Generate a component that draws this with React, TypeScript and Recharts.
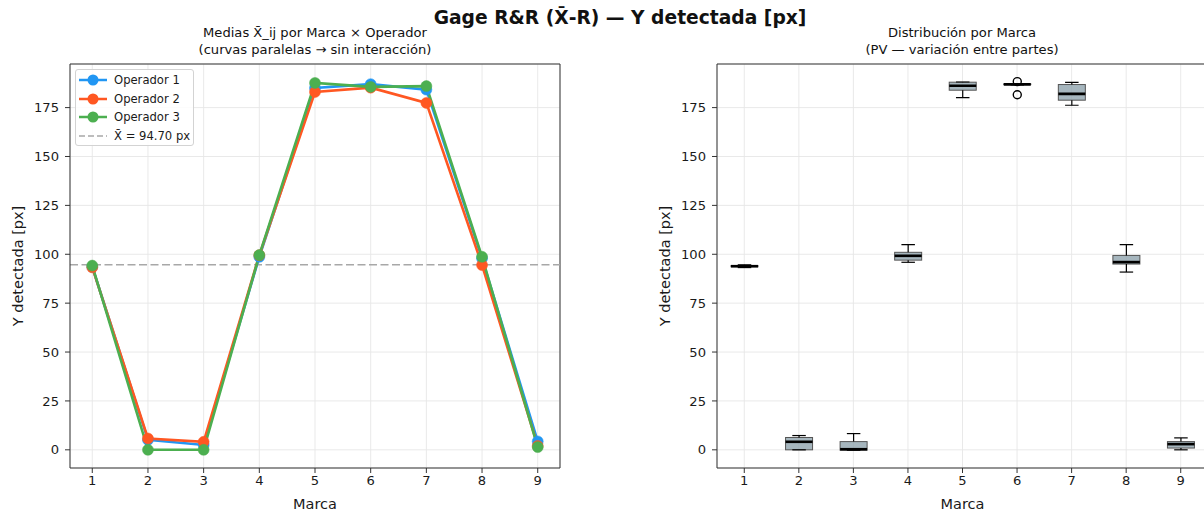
import React from "react";
import {
  LineChart,
  Line,
  XAxis,
  YAxis,
  CartesianGrid,
  ReferenceLine,
  ComposedChart,
  Bar,
} from "recharts";

// ---------- data ----------
const MARCAS = [1, 2, 3, 4, 5, 6, 7, 8, 9];
const OPERADOR_1 = [93.5, 5.1, 2.5, 98.7, 185.0, 187.0, 184.2, 97.9, 4.3];
const OPERADOR_2 = [93.3, 5.8, 4.1, 99.5, 183.0, 185.2, 177.4, 94.5, 2.0];
const OPERADOR_3 = [94.2, 0.0, 0.0, 99.6, 187.6, 185.6, 186.0, 98.7, 1.4];
const GRAND_MEAN = 94.7;

const WHISKER_LO = [93.2, 0.0, -0.2, 95.9, 180.1, 186.6, 176.2, 90.9, 0.0];
const Q1 = [93.6, 0.0, -0.2, 97.0, 183.9, 186.8, 178.8, 95.0, 0.9];
const MEDIAN = [93.9, 4.1, 0.3, 99.2, 186.2, 186.9, 182.0, 96.0, 2.9];
const Q3 = [94.2, 6.3, 4.2, 101.0, 188.0, 187.1, 186.8, 99.4, 4.2];
const WHISKER_HI = [94.6, 7.3, 8.3, 104.9, 188.1, 187.2, 187.9, 104.9, 6.1];
const FLIERS: number[][] = [[], [], [], [], [], [188.3, 181.6], [], [], []];

const Y_TICKS = [0, 25, 50, 75, 100, 125, 150, 175];
const Y_DOMAIN: [number, number] = [-9.3, 197.3];
const X_DOMAIN: [number, number] = [0.6, 9.4];

const SERIES = [
  { key: "op1", name: "Operador 1", color: "#2196F3", values: OPERADOR_1 },
  { key: "op2", name: "Operador 2", color: "#FF5722", values: OPERADOR_2 },
  { key: "op3", name: "Operador 3", color: "#4CAF50", values: OPERADOR_3 },
];

const lineData = MARCAS.map((m, i) => {
  const row: any = { marca: m };
  SERIES.forEach((s) => (row[s.key] = s.values[i]));
  return row;
});

const boxData = MARCAS.map((m, i) => {
  const all = [WHISKER_LO[i], WHISKER_HI[i], ...FLIERS[i]];
  return {
    marca: String(m),
    wlo: WHISKER_LO[i],
    q1: Q1[i],
    med: MEDIAN[i],
    q3: Q3[i],
    whi: WHISKER_HI[i],
    fliers: FLIERS[i],
    lo: Math.min(...all),
    hi: Math.max(...all),
  };
});

// ---------- styles ----------
const FONT = "'DejaVu Sans', sans-serif";
const TICK = { fontSize: 13.1, fill: "#1a1a1a", fontFamily: FONT };
const SPINE = "#333";
const GRID = "#e6e6e6";

const YLabel = (props: any) => {
  const vb = props.viewBox || {};
  const cx = (vb.x || 0) + 18;
  const cy = (vb.y || 0) + (vb.height || 0) / 2;
  return (
    <text
      x={cx}
      y={cy}
      transform={`rotate(-90, ${cx}, ${cy})`}
      textAnchor="middle"
      dominantBaseline="central"
      style={{ fontSize: 14.5, fontFamily: FONT, fill: "#1a1a1a" }}
    >
      Y detectada [px]
    </text>
  );
};

const XLabel = (props: any) => {
  const vb = props.viewBox || {};
  const cx = (vb.x || 0) + (vb.width || 0) / 2;
  const cy = (vb.y || 0) + (vb.height || 0) - 3;
  return (
    <text
      x={cx}
      y={cy}
      textAnchor="middle"
      style={{ fontSize: 14.5, fontFamily: FONT, fill: "#1a1a1a" }}
    >
      Marca
    </text>
  );
};

const LegendBox = () => (
  <div
    style={{
      position: "absolute",
      left: 75,
      top: 69,
      border: "1px solid #d3d3d3",
      borderRadius: 3,
      background: "rgba(255,255,255,0.85)",
      width: 119,
      height: 77,
      padding: "1px 0 0 0",
      fontFamily: FONT,
      fontSize: 11.6,
      color: "#1a1a1a",
      boxSizing: "border-box",
      whiteSpace: "nowrap",
    }}
  >
    {SERIES.map((s) => (
      <div key={s.key} style={{ display: "flex", alignItems: "center", height: 18.5 }}>
        <svg width={34} height={14} style={{ marginLeft: 2, flex: "none" }}>
          <line x1={1} x2={29} y1={7} y2={7} stroke={s.color} strokeWidth={2.5} />
          <circle cx={15} cy={7} r={5.5} fill={s.color} />
        </svg>
        <span style={{ marginLeft: 2 }}>{s.name}</span>
      </div>
    ))}
    <div style={{ display: "flex", alignItems: "center", height: 18.5 }}>
      <svg width={34} height={14} style={{ marginLeft: 2, flex: "none" }}>
        <line x1={1} x2={29} y1={7} y2={7} stroke="#a8a8a8" strokeWidth={1.5} strokeDasharray="6 3" />
      </svg>
      <span style={{ marginLeft: 2 }}>{`X\u0304 = ${GRAND_MEAN.toFixed(2)} px`}</span>
    </div>
  </div>
);

const BoxShape = (props: any) => {
  const { x, y, width, height, payload } = props;
  if (!payload || x == null) return null;
  const top = Math.min(y, y + height);
  const bot = Math.max(y, y + height);
  const span = payload.hi - payload.lo || 1;
  const py = (v: number) => bot - ((v - payload.lo) / span) * (bot - top);
  const cx = x + width / 2;
  const cap = width / 4;
  return (
    <g>
      <rect
        x={x}
        y={py(payload.q3)}
        width={width}
        height={Math.max(py(payload.q1) - py(payload.q3), 0.5)}
        fill="#90A4AE"
        fillOpacity={0.8}
        stroke="#555"
        strokeWidth={1}
      />
      <line x1={cx} x2={cx} y1={py(payload.q3)} y2={py(payload.whi)} stroke="#000" strokeWidth={1.2} />
      <line x1={cx} x2={cx} y1={py(payload.q1)} y2={py(payload.wlo)} stroke="#000" strokeWidth={1.2} />
      <line x1={cx - cap} x2={cx + cap} y1={py(payload.whi)} y2={py(payload.whi)} stroke="#000" strokeWidth={1.2} />
      <line x1={cx - cap} x2={cx + cap} y1={py(payload.wlo)} y2={py(payload.wlo)} stroke="#000" strokeWidth={1.2} />
      <line x1={x} x2={x + width} y1={py(payload.med)} y2={py(payload.med)} stroke="#000" strokeWidth={2.6} />
      {payload.fliers.map((f: number, i: number) => (
        <circle key={i} cx={cx} cy={py(f)} r={4} fill="none" stroke="#000" strokeWidth={1.4} />
      ))}
    </g>
  );
};

const textStyle: React.CSSProperties = {
  position: "absolute",
  fontFamily: FONT,
  color: "#111",
  textAlign: "center",
  whiteSpace: "nowrap",
};

export default function App() {
  return (
    <div
      style={{
        position: "absolute",
        left: 0,
        top: 0,
        width: 1204,
        height: 512,
        overflow: "hidden",
        background: "#fff",
      }}
    >
      <div style={{ ...textStyle, left: 320, width: 600, top: 8, fontSize: 18.7, fontWeight: "bold", lineHeight: "20px" }}>
        {"Gage R&R (X\u0304-R) \u2014 Y detectada [px]"}
      </div>
      <div style={{ ...textStyle, left: 15, width: 600, top: 25, fontSize: 13.1, lineHeight: "16.8px" }}>
        <div>{"Medias X\u0304_ij por Marca \u00d7 Operador"}</div>
        <div>{"(curvas paralelas \u2192 sin interacci\u00f3n)"}</div>
      </div>
      <div style={{ ...textStyle, left: 662, width: 600, top: 25, fontSize: 13.1, lineHeight: "16.8px" }}>
        <div>{"Distribuci\u00f3n por Marca"}</div>
        <div>{"(PV \u2014 variaci\u00f3n entre partes)"}</div>
      </div>

      {/* Left chart */}
      <div style={{ position: "absolute", left: 0, top: 0 }}>
        <LineChart
          width={600}
          height={512}
          data={lineData}
          margin={{ top: 64, right: 40, bottom: 0, left: 0 }}
        >
          <CartesianGrid stroke={GRID} strokeWidth={0.9} />
          <XAxis
            dataKey="marca"
            type="number"
            domain={X_DOMAIN}
            ticks={MARCAS}
            allowDataOverflow
            height={44}
            tick={TICK}
            tickSize={5}
            tickMargin={3}
            tickLine={{ stroke: SPINE }}
            axisLine={{ stroke: SPINE }}
            label={<XLabel />}
          />
          <YAxis
            type="number"
            domain={Y_DOMAIN}
            ticks={Y_TICKS}
            allowDataOverflow
            width={70}
            tick={TICK}
            tickSize={5}
            tickMargin={6}
            tickLine={{ stroke: SPINE }}
            axisLine={{ stroke: SPINE }}
            label={<YLabel />}
          />
          <ReferenceLine y={Y_DOMAIN[1]} stroke={SPINE} strokeWidth={1} />
          <ReferenceLine x={X_DOMAIN[1]} stroke={SPINE} strokeWidth={1} />
          <ReferenceLine y={GRAND_MEAN} stroke="#a8a8a8" strokeWidth={1.5} strokeDasharray="8 3.5" />
          {SERIES.map((s) => (
            <Line
              key={s.key}
              type="linear"
              dataKey={s.key}
              name={s.name}
              stroke={s.color}
              strokeWidth={2.6}
              dot={{ r: 5.5, fill: s.color, stroke: s.color, strokeWidth: 0.5 }}
              activeDot={false}
              isAnimationActive={false}
            />
          ))}
        </LineChart>
        <LegendBox />
      </div>

      {/* Right chart */}
      <div style={{ position: "absolute", left: 647, top: 0 }}>
        <ComposedChart
          width={600}
          height={512}
          data={boxData}
          margin={{ top: 64, right: 39, bottom: 0, left: 0 }}
        >
          <CartesianGrid stroke={GRID} strokeWidth={0.9} />
          <XAxis
            dataKey="marca"
            type="category"
            height={44}
            tick={TICK}
            tickSize={5}
            tickMargin={3}
            tickLine={{ stroke: SPINE }}
            axisLine={{ stroke: SPINE }}
            label={<XLabel />}
          />
          <YAxis
            type="number"
            domain={Y_DOMAIN}
            ticks={Y_TICKS}
            allowDataOverflow
            width={70}
            tick={TICK}
            tickSize={5}
            tickMargin={6}
            tickLine={{ stroke: SPINE }}
            axisLine={{ stroke: SPINE }}
            label={<YLabel />}
          />
          <ReferenceLine y={Y_DOMAIN[1]} stroke={SPINE} strokeWidth={1} />
          <Bar
            dataKey={(d: any) => [d.lo, d.hi]}
            barSize={27}
            shape={<BoxShape />}
            isAnimationActive={false}
          />
        </ComposedChart>
      </div>
    </div>
  );
}
